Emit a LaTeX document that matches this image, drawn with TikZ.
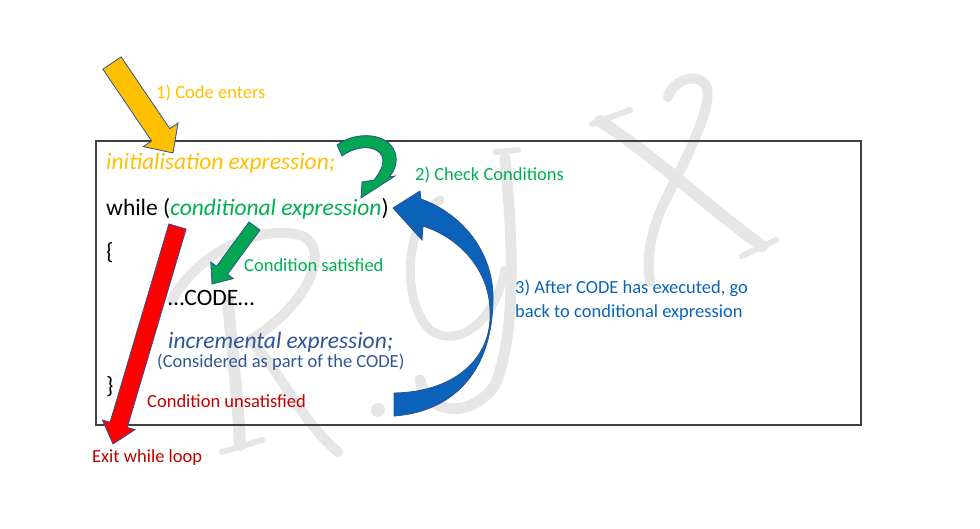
\documentclass[tikz,border=0pt]{standalone}
\usepackage{fontspec}
\setmainfont{Carlito}
\usetikzlibrary{calc}
\definecolor{cyellow}{HTML}{FFC000}
\definecolor{cgreen}{HTML}{00B050}
\definecolor{cgreenarrow}{HTML}{00A651}
\definecolor{cred}{HTML}{C00000}
\definecolor{credarrow}{HTML}{FF0000}
\definecolor{cblue}{HTML}{2F5597}
\definecolor{cbluetext}{HTML}{0A64B4}
\definecolor{cbluearrow}{HTML}{0B63B9}
\definecolor{coutline}{HTML}{2F528F}
\definecolor{cwm}{HTML}{E6E6E6}
\definecolor{cbox}{HTML}{404040}
\newcommand\blockarrow[6]{%
  \coordinate (ba-t) at (#2);
  \coordinate (ba-h) at (#3);
  \coordinate (ba-b) at ($(ba-h)!#6!(ba-t)$);
  \path[#1] ($(ba-t)!#4!90:(ba-h)$) -- ($(ba-b)!#4!90:(ba-h)$) -- ($(ba-b)!#5!90:(ba-h)$) -- (ba-h)
    -- ($(ba-b)!#5!-90:(ba-h)$) -- ($(ba-b)!#4!-90:(ba-h)$) -- ($(ba-t)!#4!-90:(ba-h)$) -- cycle;
}
\begin{document}
\begin{tikzpicture}[x=1pt,y=-1pt,
  lbl/.style={anchor=base west, inner sep=0pt, font=\fontsize{18.5}{22}\selectfont},
  code/.style={anchor=base west, inner sep=0pt, font=\fontsize{23.5}{28}\selectfont},
  arrowshape/.style={draw=coutline, line width=0.8pt, line join=miter},
  wmstroke/.style={draw=cwm, line width=12pt, line cap=round}]
\useasboundingbox (0,0) rectangle (980,528);
% watermark
\draw[wmstroke] (600,121) .. controls (660,160) and (705,205) .. (762,246);
\draw[wmstroke, line width=6pt] (592,124) -- (630,110);
\draw[wmstroke, line width=6pt] (742,256) -- (776,240);
\draw[wmstroke, line width=10pt] (668,97) .. controls (672,80) and (700,70) .. (707,88) .. controls (712,112) and (680,170) .. (663,205) .. controls (651,232) and (646,258) .. (650,282);
\draw[wmstroke, line width=11pt] (505,158) .. controls (512,230) and (518,330) .. (495,385) .. controls (475,415) and (430,420) .. (420,380);
\draw[wmstroke, line width=9pt] (440,200) .. controls (405,220) and (400,300) .. (430,330) .. controls (460,350) and (495,320) .. (505,270);
\draw[wmstroke, line width=6pt] (495,152) -- (518,150);
\draw[wmstroke] (228,300) .. controls (232,350) and (238,400) .. (240,445);
\draw[wmstroke, line width=6pt] (222,452) -- (262,440);
\draw[wmstroke, line width=10pt] (172,300) .. controls (200,250) and (260,225) .. (300,235) .. controls (330,245) and (315,300) .. (250,340);
\draw[wmstroke, line width=10pt] (250,340) .. controls (280,370) and (300,420) .. (338,452);
\fill[cwm] (378,410) circle (7);
% frame
\node[draw=cbox, line width=1.5pt, minimum width=765pt, minimum height=284pt, inner sep=0pt, anchor=north west] (frame) at (95,140) {};
% texts
\node[lbl, text=cyellow] (t1) at (156,98) {1) Code enters};
\node[code, text=cyellow] (init) at (106,169) {\itshape initialisation expression;};
\node[code] (while) at (106,215) {while (\textcolor{cgreen}{\itshape conditional expression})};
\node[code] (ob) at (106,259) {\{};
\node[code] (codetxt) at (168,305) {…CODE…};
\node[code, text=cblue] (incr) at (168,348) {\itshape incremental expression;};
\node[lbl, text=cblue] (cons) at (157,367) {(Considered as part of the CODE)};
\node[code] (cb) at (106,393) {\}};
\node[lbl, text=cred] (unsat) at (147,407) {Condition unsatisfied};
\node[lbl, text=cred] (exit) at (92,462) {Exit while loop};
\node[lbl, text=cgreen] (sat) at (244,271) {Condition satisfied};
\node[lbl, text=cgreen] (t2) at (415,180) {2) Check Conditions};
\node[lbl, text=cbluetext] (t3a) at (515,293) {3) After CODE has executed, go};
\node[lbl, text=cbluetext] (t3b) at (515,317) {back to conditional expression};
% arrows
\blockarrow{arrowshape, fill=cyellow}{112,63}{173,153}{11pt}{21pt}{22pt}
\blockarrow{arrowshape, fill=credarrow}{177.5,226.5}{113,444}{9pt}{17pt}{20pt}
\blockarrow{arrowshape, fill=cgreenarrow}{254.5,226}{212,284}{6.8pt}{14pt}{17pt}
\path[arrowshape, fill=cgreenarrow] (337,145) .. controls (352,133) and (382,131) .. (393,148)
  .. controls (399,158) and (396,170) .. (389,177) -- (395,176) -- (361,198) -- (362,182) -- (374,180)
  .. controls (382,170) and (386,160) .. (380,153) .. controls (372,145) and (356,146) .. (342,156) -- cycle;
\path[arrowshape, fill=cbluearrow] (393,208) -- (420,191) -- (421,199)
  .. controls (465,215) and (494,255) .. (493,300) .. controls (492,375) and (450,412) .. (394,416)
  -- (394,393) .. controls (455,392) and (492,358) .. (490,312) .. controls (490,275) and (465,240) .. (423,226)
  -- (422,240) -- cycle;
\end{tikzpicture}
\end{document}
